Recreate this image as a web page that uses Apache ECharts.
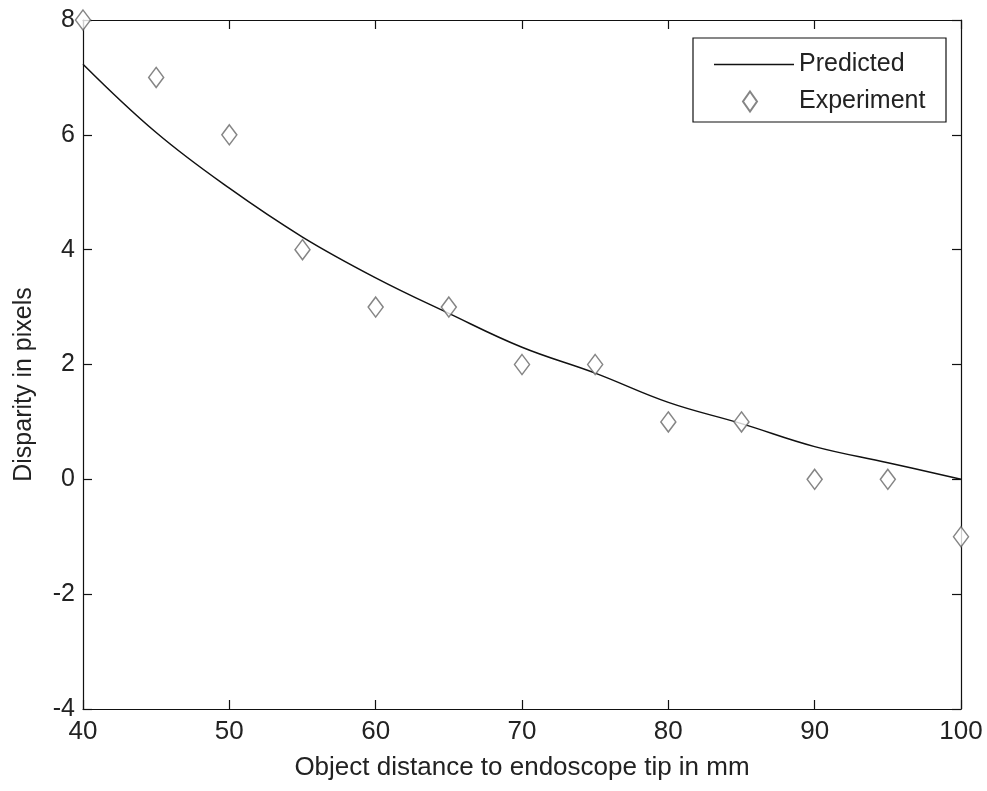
<!DOCTYPE html>
<html>
<head>
<meta charset="utf-8">
<script src="https://cdn.jsdelivr.net/npm/echarts@6/dist/echarts.min.js"></script>
<style>
  html, body { margin: 0; padding: 0; background: #fff; }
  #chart { width: 987px; height: 791px; }
</style>
</head>
<body>
<div id="chart"></div>
<script>
// Object distance (mm) at which the disparity was evaluated
const distances = [40, 45, 50, 55, 60, 65, 70, 75, 80, 85, 90, 95, 100];
// Model curve: predicted disparity (pixels)
const predicted = [7.23, 6.04, 5.07, 4.22, 3.51, 2.89, 2.3, 1.85, 1.34, 0.97, 0.57, 0.29, 0.0];
// Measured disparity (pixels)
const experiment = [8, 7, 6, 4, 3, 3, 2, 2, 1, 1, 0, 0, -1];
// Axis tick values
const xTicks = [40, 50, 60, 70, 80, 90, 100];
const yTicks = [-4, -2, 0, 2, 4, 6, 8];

const FONT = '"Liberation Sans", Arial, sans-serif';
const FS = 25;
const FSX = 26;
const TEXT = '#222';

const chart = echarts.init(document.getElementById('chart'), null, { renderer: 'canvas' });

function pairs(xs, ys) { return xs.map((x, i) => [x, ys[i]]); }

const axisLine = { show: true, onZero: false, lineStyle: { color: '#111', width: 1.2 } };
const axisTick = { show: true, inside: true, length: 9, lineStyle: { color: '#111', width: 1.2 } };

const xBase = {
  type: 'value',
  min: xTicks[0], max: xTicks[xTicks.length - 1], interval: xTicks[1] - xTicks[0],
  splitLine: { show: false }, axisLine, axisTick
};
const yBase = {
  type: 'value',
  min: yTicks[0], max: yTicks[yTicks.length - 1], interval: yTicks[1] - yTicks[0],
  splitLine: { show: false }, axisLine, axisTick
};

chart.setOption({
  animation: false,
  backgroundColor: '#fff',
  grid: { left: 83, right: 26, top: 20, bottom: 82 },
  xAxis: [
    Object.assign({}, xBase, {
      position: 'bottom',
      name: 'Object distance to endoscope tip in mm',
      nameLocation: 'middle', nameGap: 46,
      nameTextStyle: { fontFamily: FONT, fontSize: FSX, color: TEXT },
      axisLabel: { fontFamily: FONT, fontSize: FSX, color: TEXT, margin: 10 }
    }),
    Object.assign({}, xBase, { position: 'top', axisLabel: { show: false } })
  ],
  yAxis: [
    Object.assign({}, yBase, {
      position: 'left',
      name: 'Disparity in pixels',
      nameLocation: 'middle', nameGap: 46,
      nameTextStyle: { fontFamily: FONT, fontSize: FS, color: TEXT, padding: [0, 40, 0, 0] },
      axisLabel: { fontFamily: FONT, fontSize: FS, color: TEXT, margin: 8 }
    }),
    Object.assign({}, yBase, { position: 'right', axisLabel: { show: false } })
  ],
  legend: [
    {
      data: [{ name: 'Predicted', icon: 'rect' }],
      left: 709, top: 47,
      itemWidth: 80, itemHeight: 1.5,
      itemStyle: { color: '#111' },
      textStyle: { fontFamily: FONT, fontSize: FS, color: TEXT }
    },
    {
      data: [{ name: 'Experiment', icon: 'diamond' }],
      left: 737, top: 84,
      itemWidth: 14, itemHeight: 20,
      textStyle: { fontFamily: FONT, fontSize: FS, color: TEXT, padding: [0, 0, 0, 37] }
    }
  ],
  graphic: [{
    type: 'rect',
    shape: { x: 693, y: 38, width: 253, height: 84 },
    style: { fill: 'none', stroke: '#111', lineWidth: 1.2 },
    z: 10
  }],
  series: [
    {
      name: 'Predicted',
      type: 'line',
      data: pairs(distances, predicted),
      smooth: 0.4,
      showSymbol: false,
      symbol: 'none',
      lineStyle: { color: '#111', width: 1.5 },
      itemStyle: { color: '#111' },
      z: 3
    },
    {
      name: 'Experiment',
      type: 'scatter',
      data: pairs(distances, experiment),
      symbol: 'diamond',
      symbolSize: [15, 20],
      clip: false,
      itemStyle: { color: '#fff', borderColor: '#666', borderWidth: 1.5 },
      z: 4
    }
  ]
});
</script>
</body>
</html>
